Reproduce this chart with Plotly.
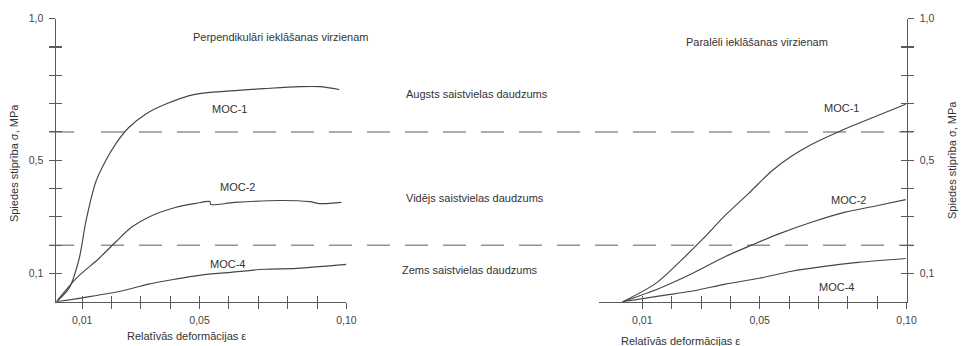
import plotly.graph_objects as go

W, H = 969, 346

# ---------------- data ----------------
# Left panel: perpendicular to laying direction
perp_moc1_x = [0.0012, 0.0056, 0.0090, 0.0113, 0.0147, 0.0181, 0.0215, 0.0258, 0.0316, 0.0383, 0.0484, 0.0606, 0.0720, 0.0841, 0.0909, 0.0976]
perp_moc1_y = [0.000, 0.049, 0.153, 0.285, 0.425, 0.500, 0.559, 0.615, 0.663, 0.698, 0.733, 0.745, 0.753, 0.760, 0.760, 0.750]

perp_moc2_x = [0.0012, 0.0080, 0.0157, 0.0215, 0.0269, 0.0326, 0.0417, 0.0484, 0.0535, 0.0538, 0.0619, 0.0774, 0.0875, 0.0909, 0.0983]
perp_moc2_y = [0.000, 0.083, 0.153, 0.212, 0.264, 0.299, 0.333, 0.347, 0.354, 0.344, 0.351, 0.358, 0.354, 0.347, 0.351]

perp_moc4_x = [0.0012, 0.0100, 0.0235, 0.0326, 0.0417, 0.0504, 0.0606, 0.0720, 0.0831, 0.1000]
perp_moc4_y = [0.000, 0.014, 0.038, 0.0625, 0.080, 0.094, 0.104, 0.115, 0.118, 0.132]

# Right panel: parallel to laying direction
par_moc1_x = [0.0033, 0.0147, 0.0228, 0.0306, 0.0383, 0.0464, 0.0542, 0.0609, 0.0676, 0.0771, 0.0902, 0.0997]
par_moc1_y = [0.000, 0.066, 0.142, 0.222, 0.306, 0.385, 0.463, 0.515, 0.556, 0.602, 0.658, 0.698]

par_moc2_x = [0.0033, 0.0161, 0.0272, 0.0383, 0.0474, 0.0565, 0.0676, 0.0788, 0.0902, 0.0997]
par_moc2_y = [0.000, 0.049, 0.101, 0.160, 0.201, 0.240, 0.281, 0.316, 0.340, 0.361]

par_moc4_x = [0.0033, 0.0161, 0.0272, 0.0383, 0.0498, 0.0609, 0.0720, 0.0835, 0.0997]
par_moc4_y = [0.000, 0.021, 0.038, 0.0625, 0.083, 0.108, 0.125, 0.139, 0.153]

# class boundaries (dashed lines)
boundary_levels = [0.6, 0.2]

# ticks
x_tickvals = [0.01, 0.02, 0.03, 0.04, 0.05, 0.06, 0.07, 0.08, 0.09, 0.10]
x_ticktext = ["0,01", "", "", "", "0,05", "", "", "", "", "0,10"]
y_tickvals = [0.1, 0.2, 0.3, 0.4, 0.5, 0.6, 0.7, 0.8, 0.9, 1.0]
y_ticktext = ["0,1", "", "", "", "0,5", "", "", "", "", "1,0"]
y_thick_tick = [0.9]

panel_titles = ["Perpendikulāri ieklāšanas virzienam", "Paralēli ieklāšanas virzienam"]
class_labels = ["Augsts saistvielas daudzums", "Vidējs saistvielas daudzums", "Zems saistvielas daudzums"]
series_names = ["MOC-1", "MOC-2", "MOC-4"]
x_title = "Relatīvās deformācijas ε"
y_title = "Spiedes stiprība σ, MPa"

# ---------------- styling ----------------
FONT = "Liberation Sans, Arial, sans-serif"
LINE_COL = "#454545"
AX_COL = "#5a5a5a"
TXT_COL = "#333333"
DASH_COL = "#929292"


def px(x):
    return x / W


def py(y):
    return 1 - y / H


ydom = [py(301), py(13)]
left_dom = [px(57), px(350)]
right_dom = [px(605), px(916)]
left_rng = [0.00124, 0.10]
right_rng = [-0.00483, 0.10]

fig = go.Figure()

left_series = [(perp_moc1_x, perp_moc1_y), (perp_moc2_x, perp_moc2_y), (perp_moc4_x, perp_moc4_y)]
right_series = [(par_moc1_x, par_moc1_y), (par_moc2_x, par_moc2_y), (par_moc4_x, par_moc4_y)]

line_style = dict(color=LINE_COL, width=1.15, shape="spline", smoothing=0.9)
for name, (xs, ys) in zip(series_names, left_series):
    fig.add_trace(go.Scatter(x=xs, y=ys, mode="lines", name=name, xaxis="x", yaxis="y",
                             line=line_style, showlegend=False, hoverinfo="skip"))
for name, (xs, ys) in zip(series_names, right_series):
    fig.add_trace(go.Scatter(x=xs, y=ys, mode="lines", name=name, xaxis="x2", yaxis="y2",
                             line=line_style, showlegend=False, hoverinfo="skip"))

# empty traces so that the overlay tick axes are rendered
for xa, ya in [("x3", "y"), ("x4", "y2"), ("x", "y3"), ("x2", "y4"),
               ("x", "y5"), ("x", "y6"), ("x2", "y7"), ("x2", "y8")]:
    fig.add_trace(go.Scatter(x=[], y=[], mode="lines", xaxis=xa, yaxis=ya,
                             showlegend=False, hoverinfo="skip"))

tickfont = dict(family=FONT, size=10.5, color="#444444")
common = dict(showgrid=False, zeroline=False, fixedrange=True, tickcolor=AX_COL, ticklen=6, tickwidth=1)

layout = dict(
    width=W, height=H,
    margin=dict(l=0, r=0, t=0, b=0),
    paper_bgcolor="white", plot_bgcolor="rgba(0,0,0,0)",
    showlegend=False,
    font=dict(family=FONT, size=11, color=TXT_COL),
)

# main x axes
layout["xaxis"] = dict(domain=left_dom, range=left_rng, anchor="y", showline=True, linecolor=AX_COL, linewidth=1,
                       ticks="outside", tickvals=x_tickvals, ticktext=x_ticktext, tickfont=tickfont,
                       ticklabelstandoff=3, **common)
layout["xaxis2"] = dict(domain=right_dom, range=right_rng, anchor="y2", showline=True, linecolor=AX_COL, linewidth=1,
                        ticks="outside", tickvals=x_tickvals, ticktext=x_ticktext, tickfont=tickfont,
                        ticklabelstandoff=3, **common)
# main y axes
layout["yaxis"] = dict(domain=ydom, range=[0, 1.0], anchor="x", showline=True, linecolor=AX_COL, linewidth=1,
                       ticks="outside", tickvals=y_tickvals, ticktext=y_ticktext, tickfont=tickfont,
                       ticklabelstandoff=4, **common)
layout["yaxis2"] = dict(domain=ydom, range=[0, 1.0], anchor="x2", side="right", showline=True, linecolor=AX_COL,
                        linewidth=1, ticks="outside", tickvals=y_tickvals, ticktext=y_ticktext, tickfont=tickfont,
                        ticklabelstandoff=4, automargin=False,
                        title=dict(text=y_title, standoff=14, font=dict(family=FONT, size=11, color=TXT_COL)),
                        **common)

# overlay axes that draw the inner half of crossing ticks
layout["xaxis3"] = dict(overlaying="x", anchor="y", range=left_rng, ticks="inside", tickvals=x_tickvals,
                        showticklabels=False, showline=False, **common)
layout["xaxis4"] = dict(overlaying="x2", anchor="y2", range=right_rng, ticks="inside", tickvals=x_tickvals,
                        showticklabels=False, showline=False, **common)
layout["yaxis3"] = dict(overlaying="y", anchor="x", range=[0, 1.0], ticks="inside", tickvals=y_tickvals,
                        showticklabels=False, showline=False, **common)
layout["yaxis4"] = dict(overlaying="y2", anchor="x2", side="right", range=[0, 1.0], ticks="inside",
                        tickvals=y_tickvals, showticklabels=False, showline=False, **common)
# thicker tick at 0.9
thick = dict(common, tickwidth=2)
layout["yaxis5"] = dict(overlaying="y", anchor="x", range=[0, 1.0], ticks="outside", tickvals=y_thick_tick,
                        showticklabels=False, showline=False, **thick)
layout["yaxis6"] = dict(overlaying="y", anchor="x", range=[0, 1.0], ticks="inside", tickvals=y_thick_tick,
                        showticklabels=False, showline=False, **thick)
layout["yaxis7"] = dict(overlaying="y2", anchor="x2", side="right", range=[0, 1.0], ticks="outside",
                        tickvals=y_thick_tick, showticklabels=False, showline=False, **thick)
layout["yaxis8"] = dict(overlaying="y2", anchor="x2", side="right", range=[0, 1.0], ticks="inside",
                        tickvals=y_thick_tick, showticklabels=False, showline=False, **thick)

fig.update_layout(**layout)

# dashed boundaries across both panels (plus the short dash that crosses the left axis)
for lvl in boundary_levels:
    fig.add_shape(type="line", xref="paper", yref="y", x0=px(102), x1=px(923), y0=lvl, y1=lvl,
                  line=dict(color=DASH_COL, width=1.5, dash="23px,15px"), layer="below")
    fig.add_shape(type="line", xref="paper", yref="y", x0=px(50), x1=px(75), y0=lvl, y1=lvl,
                  line=dict(color=DASH_COL, width=1.5), layer="below")


def ann(text, x, y, angle=0, size=11):
    fig.add_annotation(text=text, xref="paper", yref="paper", x=px(x), y=py(y), showarrow=False,
                       xanchor="center", yanchor="middle", textangle=angle,
                       font=dict(family=FONT, size=size, color=TXT_COL))


ann(panel_titles[0], 283, 32)
ann(panel_titles[1], 765, 37)
ann(class_labels[0], 482, 90)
ann(class_labels[1], 480, 195)
ann(class_labels[2], 475, 269)

ann(series_names[0], 232, 105)
ann(series_names[1], 240, 184)
ann(series_names[2], 230, 263)
ann(series_names[0], 850, 104)
ann(series_names[1], 857, 197)
ann(series_names[2], 845, 286)

ann(x_title, 188, 336)
ann(x_title, 688, 341)
ann(y_title, 14, 160, angle=-90)

fig.write_html("out.html")
